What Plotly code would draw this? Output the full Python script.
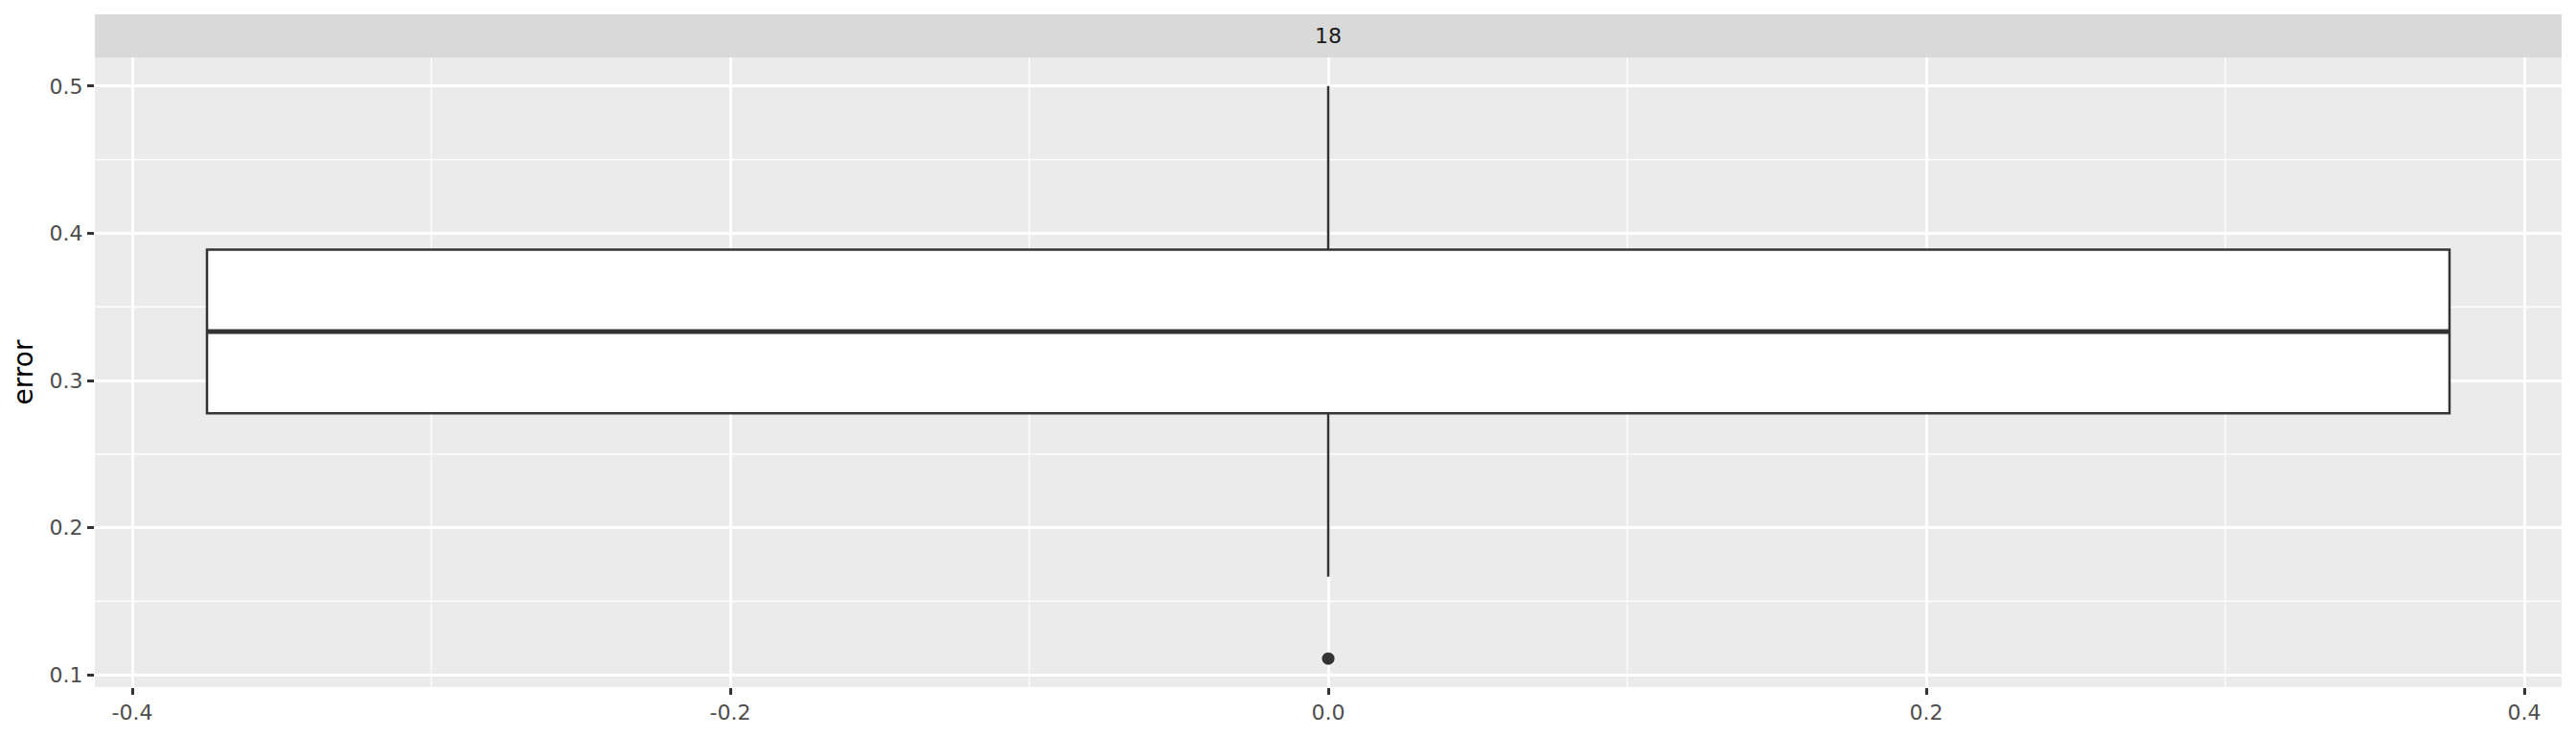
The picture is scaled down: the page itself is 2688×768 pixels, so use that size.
import plotly.graph_objects as go

# Data (facet "18")
facet_label = "18"
q1 = [0.2778]
median = [0.3333]
q3 = [0.3889]
lower_whisker = [0.1667]
upper_whisker = [0.5]
outliers = [0.1111]
box_x = [0.0]
box_width = 0.75

x_ticks = [-0.4, -0.2, 0.0, 0.2, 0.4]
y_ticks = [0.1, 0.2, 0.3, 0.4, 0.5]

LINE = "#333333"
FONT = "DejaVu Sans"

fig = go.Figure()
fig.add_trace(go.Box(
    x=box_x, q1=q1, median=median, q3=q3,
    lowerfence=lower_whisker, upperfence=upper_whisker,
    width=box_width, whiskerwidth=0,
    fillcolor="white", line=dict(color=LINE, width=2.5),
    boxpoints=False, hoverinfo="skip", showlegend=False,
))
# thicker median line (ggplot fatten = 2)
fig.add_trace(go.Scatter(
    x=[box_x[0] - box_width / 2, box_x[0] + box_width / 2],
    y=[median[0], median[0]], mode="lines",
    line=dict(color=LINE, width=5), showlegend=False, hoverinfo="skip",
))
fig.add_trace(go.Scatter(
    x=[box_x[0]] * len(outliers), y=outliers, mode="markers",
    marker=dict(color=LINE, size=13), showlegend=False, hoverinfo="skip",
))

# minor gridlines
xr = [-0.4125, 0.4125]
yr = [0.09167, 0.51944]
minor_x = [-0.3, -0.1, 0.1, 0.3]
minor_y = [0.15, 0.25, 0.35, 0.45]
shapes = []
for mx in minor_x:
    shapes.append(dict(type="line", xref="x", yref="paper", x0=mx, x1=mx, y0=0, y1=1,
                       line=dict(color="white", width=1.3), layer="below"))
for my in minor_y:
    shapes.append(dict(type="line", xref="paper", yref="y", x0=0, x1=1, y0=my, y1=my,
                       line=dict(color="white", width=1.3), layer="below"))
# facet strip
W, H = 2680, 760
M = dict(l=91, r=15, t=52, b=51)
plot_h = H - M["t"] - M["b"]
shapes.append(dict(type="rect", xref="paper", yref="paper", x0=0, x1=1, y0=1,
                   y1=1 + 45 / plot_h, fillcolor="#D9D9D9", line=dict(width=0)))

fig.update_layout(
    width=W, height=H,
    margin=M,
    paper_bgcolor="white", plot_bgcolor="#EBEBEB",
    font=dict(family=FONT, color="#4D4D4D", size=22),
    shapes=shapes,
    annotations=[dict(text=facet_label, xref="paper", yref="paper", x=0.5,
                      y=1 + 22.5 / plot_h, showarrow=False, yanchor="middle",
                      font=dict(size=22, color="#1A1A1A", family=FONT))],
    xaxis=dict(range=xr, tickvals=x_ticks, ticktext=[f"{v:.1f}" for v in x_ticks],
               showgrid=True, gridcolor="white", gridwidth=2.6, zeroline=False,
               ticks="outside", ticklen=7, tickwidth=2.5, tickcolor=LINE,
               tickfont=dict(size=22, color="#4D4D4D")),
    yaxis=dict(range=yr, tickvals=y_ticks, ticktext=[f"{v:.1f}" for v in y_ticks],
               showgrid=True, gridcolor="white", gridwidth=2.6, zeroline=False,
               ticks="outside", ticklen=7, tickwidth=2.5, tickcolor=LINE,
               tickfont=dict(size=22, color="#4D4D4D"),
               title=dict(text="error", font=dict(size=28, color="black"), standoff=8)),
)
fig.write_html("out.html")
